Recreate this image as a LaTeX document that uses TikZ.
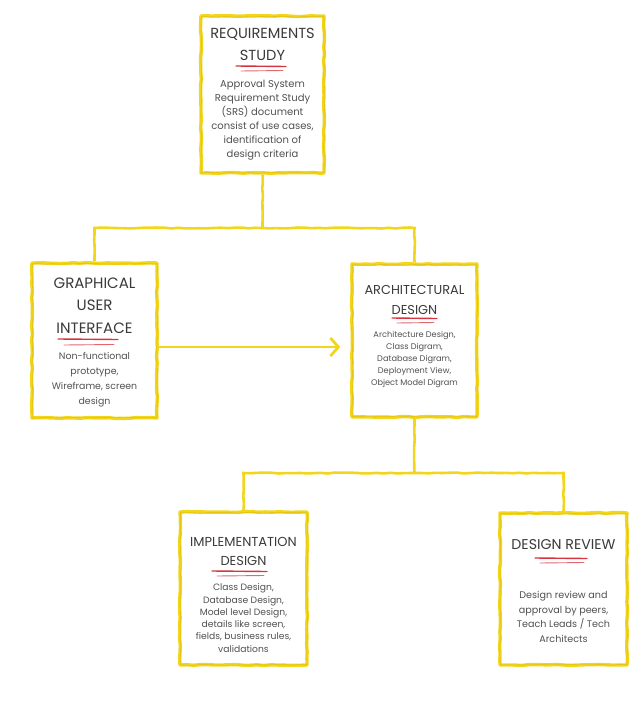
\documentclass[tikz,border=0pt]{standalone}
\usepackage{fontspec}
\setmainfont{Poppins}
\usetikzlibrary{decorations.pathmorphing,arrows.meta,calc}
\definecolor{yel}{RGB}{242,214,28}
\definecolor{yeld}{RGB}{230,198,18}
\definecolor{ulred}{RGB}{214,52,62}
\definecolor{ttlc}{RGB}{58,58,58}
\definecolor{bdyc}{RGB}{80,80,80}
\begin{document}
\begin{tikzpicture}[x=1pt,y=-1pt,
  sk/.style={decorate,decoration={random steps,segment length=7pt,amplitude=0.5pt}},
  box/.style={draw=yel,line width=3.4pt,sk,inner sep=0pt,line join=round},
  boxthin/.style={draw=yeld,line width=0.9pt,sk},
  conn/.style={draw=yel,line width=2.6pt,sk},
  arr/.style={draw=yel,line width=2.8pt,-{Straight Barb[length=8pt,width=18pt]}},
  ttl/.style={text=ttlc,align=center,inner sep=0pt},
  bdy/.style={text=bdyc,align=center,inner sep=0pt},
  ul/.style={draw=ulred,line width=1.4pt,line cap=round},
  ultwo/.style={draw=ulred!75,line width=0.9pt,line cap=round}]
\pgfmathsetseed{7}
\useasboundingbox (0,0) rectangle (642,709);

% boxes
\node[box,minimum width=123pt,minimum height=157pt] (b1) at (262.5,94.5) {};
\node[box,minimum width=125pt,minimum height=155pt] (b2) at (94.5,340.5) {};
\node[box,minimum width=125pt,minimum height=153pt] (b3) at (414.5,340.5) {};
\node[box,minimum width=127pt,minimum height=153pt] (b4) at (243.5,588.5) {};
\node[box,minimum width=127pt,minimum height=152pt] (b5) at (563.5,589) {};

\foreach \b in {b1,b2,b3,b4,b5}{
  \draw[boxthin] ([shift={(2pt,-2.5pt)}]\b.north west) rectangle ([shift={(-1.5pt,2pt)}]\b.south east);
}

% connectors
\coordinate (j1) at (262.5,228);
\coordinate (j2) at (414.5,473);
\draw[conn] (b1.south) -- (j1);
\draw[conn] (b2.north) |- (j1) -| (b3.north);
\draw[conn] (b3.south) -- (j2);
\draw[conn] (b4.north) |- (j2) -| (b5.north);
\draw[arr] ([yshift=-6.5pt]b2.east) -- ([yshift=-6.5pt,xshift=-10pt]b3.west);

% titles
\node[ttl,font=\fontsize{14.6}{22}\selectfont] (t1) at (262.5,44) {REQUIREMENTS\\STUDY};
\node[ttl,font=\fontsize{15}{22.5}\selectfont] (t2) at (94.5,305.5) {GRAPHICAL\\USER\\INTERFACE};
\node[ttl,font=\fontsize{12.9}{20}\selectfont] (t3) at (414.5,300) {ARCHITECTURAL\\DESIGN};
\node[ttl,font=\fontsize{13}{19}\selectfont] (t4) at (243.5,551) {IMPLEMENTATION\\DESIGN};
\node[ttl,font=\fontsize{14.2}{20}\selectfont] (t5) at (563.5,545) {DESIGN REVIEW};

% underlines
\draw[ul] (236,66) -- (286,66.5);   \draw[ultwo] (241,71) -- (283,70.5);
\draw[ul] (58,339) -- (118,339.5);  \draw[ultwo] (64,345) -- (114,344.5);
\draw[ul] (392,318) -- (437,318.5); \draw[ultwo] (397,323) -- (434,322.5);
\draw[ul] (212,571) -- (267,571.5); \draw[ultwo] (217,576) -- (264,575.5);
\draw[ul] (535,558) -- (587,558.5); \draw[ultwo] (540,563) -- (584,562.5);

% bodies
\node[bdy,font=\fontsize{10}{14}\selectfont] (d1) at (262.5,120) {Approval System\\Requirement Study\\(SRS) document\\consist of use cases,\\identification of\\design criteria};
\node[bdy,font=\fontsize{9.4}{15}\selectfont] (d2) at (94.5,379.5) {Non-functional\\prototype,\\Wireframe, screen\\design};
\node[bdy,font=\fontsize{8.2}{12}\selectfont] (d3) at (414.5,359) {Architecture Design,\\Class Digram,\\Database Digram,\\Deployment View,\\Object Model Digram};
\node[bdy,font=\fontsize{9.2}{12.3}\selectfont] (d4) at (243.5,618) {Class Design,\\Database Design,\\Model level Design,\\details like screen,\\fields, business rules,\\validations};
\node[bdy,font=\fontsize{9.6}{14.5}\selectfont] (d5) at (563.5,617) {Design review and\\approval by peers,\\Teach Leads / Tech\\Architects};
\end{tikzpicture}
\end{document}
